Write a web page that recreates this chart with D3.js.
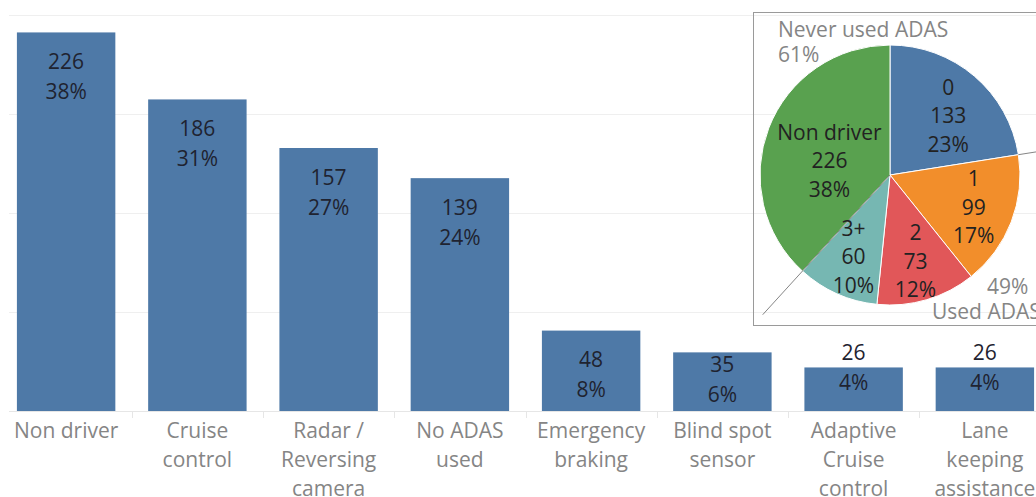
<!DOCTYPE html>
<html>
<head>
<meta charset="utf-8">
<script src="https://cdn.jsdelivr.net/npm/d3@7"></script>
<style>
  html, body { margin: 0; padding: 0; background: #fff; }
  svg { display: block; font-family: "Open Sans", "Noto Sans", sans-serif; }
</style>
</head>
<body>
<svg id="chart" width="1036" height="497"></svg>
<script>
// ---- data ----
const categories = [
  ["Non driver"],
  ["Cruise", "control"],
  ["Radar /", "Reversing", "camera"],
  ["No ADAS", "used"],
  ["Emergency", "braking"],
  ["Blind spot", "sensor"],
  ["Adaptive", "Cruise", "control"],
  ["Lane", "keeping", "assistance"]
];
const barValues = [226, 186, 157, 139, 48, 35, 26, 26];
const respondents = 591;
const gridPercents = [0, 10, 20, 30, 40];

const pieNames = ["0", "1", "2", "3+", "Non driver"];
const pieValues = [133, 99, 73, 60, 226];
const pieColors = ["#4e79a7", "#f28e2b", "#e15759", "#76b7b2", "#59a14f"];
const groupNames = ["Never used ADAS", "Used ADAS"];
const groupPercents = ["61%", "49%"];

// ---- setup ----
const W = 1036, H = 497;
const svg = d3.select("#chart");
const pct = d3.format(".0%");
const FS = 21, LH = 29, CAP = 7.5;

const x = d3.scaleBand().domain(d3.range(barValues.length))
  .range([0.5, 1050.5]).paddingInner(0.25).paddingOuter(0.125);
const y = d3.scaleLinear().domain([0, 40]).range([411, 15]);
const yv = v => y(v / respondents * 100);

// gridlines
svg.append("g").selectAll("line").data(gridPercents).join("line")
  .attr("x1", 9).attr("x2", W)
  .attr("y1", d => y(d) + 0.5).attr("y2", d => y(d) + 0.5)
  .attr("stroke", d => d === 0 ? "#e6e6e6" : "#efefef").attr("stroke-width", 1);

// category separators
svg.append("g").selectAll("line").data(d3.range(1, barValues.length)).join("line")
  .attr("x1", i => Math.round(x(i) - x.step() * x.paddingInner() / 2) + 0.5)
  .attr("x2", i => Math.round(x(i) - x.step() * x.paddingInner() / 2) + 0.5)
  .attr("y1", y(0) + 1).attr("y2", y(0) + 7)
  .attr("stroke", "#e6e6e6");

// bars
svg.append("g").selectAll("rect").data(barValues).join("rect")
  .attr("x", (d, i) => x(i)).attr("width", x.bandwidth())
  .attr("y", d => yv(d)).attr("height", d => y(0) - yv(d))
  .attr("fill", "#4e79a7");

// bar labels
const barLabels = svg.append("g").attr("font-size", FS).attr("fill", "#1f2330").attr("text-anchor", "middle");
barValues.forEach((v, i) => {
  const top = yv(v), bottom = y(0), h = bottom - top;
  const center = h >= 55 ? Math.min(top + 44, bottom - 32) : top;
  const lines = [String(v), pct(v / respondents)];
  lines.forEach((t, k) => {
    barLabels.append("text")
      .attr("x", x(i) + x.bandwidth() / 2)
      .attr("y", center + (k - 0.5) * 30 + CAP)
      .text(t);
  });
});

// axis labels
const axisG = svg.append("g").attr("font-size", FS).attr("fill", "#858585").attr("text-anchor", "middle");
categories.forEach((lines, i) => {
  lines.forEach((t, k) => {
    axisG.append("text")
      .attr("x", x(i) + x.bandwidth() / 2)
      .attr("y", 438 + k * LH)
      .text(t);
  });
});

// ---- pie inset ----
const cx = 890, cy = 175, r = 130;
svg.append("rect").attr("x", 753.5).attr("y", 12.5).attr("width", 320).attr("height", 313)
  .attr("fill", "none").attr("stroke", "#9a9a9a").attr("stroke-width", 1);

const pieG = svg.append("g").attr("transform", `translate(${cx},${cy})`);
const pie = d3.pie().sort(null).value(d => d)(pieValues);
const arc = d3.arc().innerRadius(0).outerRadius(r);

pieG.selectAll("path").data(pie).join("path")
  .attr("d", arc)
  .attr("fill", (d, i) => pieColors[i])
  .attr("stroke", "#fff").attr("stroke-width", 1);

// group boundary lines (outer pie)
const total = d3.sum(pieValues);
const bA = 2 * Math.PI * pieValues[0] / total;          // boundary after slice 0
const bB = 2 * Math.PI * (total - pieValues[4]) / total; // boundary before Non driver
const pt = (a, rad) => [Math.sin(a) * rad, -Math.cos(a) * rad];
[[bA, r, 200], [bB, 0, 189]].forEach(([a, r0, r1]) => {
  const p0 = pt(a, r0), p1 = pt(a, r1);
  pieG.append("line").attr("x1", p0[0]).attr("y1", p0[1]).attr("x2", p1[0]).attr("y2", p1[1])
    .attr("stroke", "#666").attr("stroke-width", 0.8);
});

// slice labels
const labelG = pieG.append("g").attr("font-size", FS).attr("fill", "#222").attr("text-anchor", "middle");
pie.forEach((d, i) => {
  const mid = (d.startAngle + d.endAngle) / 2;
  const rad = pieNames[i].length > 3 ? 0.5 * r : 0.69 * r;
  let [lx, ly] = pt(mid, rad);
  if (ly < 0) ly += 9;
  const lines = [pieNames[i], String(pieValues[i]), pct(pieValues[i] / total)];
  lines.forEach((t, k) => {
    labelG.append("text").attr("x", lx).attr("y", ly + (k - 1) * 28.5 + CAP).text(t);
  });
});

// group labels
const gl = svg.append("g").attr("font-size", FS).attr("fill", "#858585");
gl.append("text").attr("x", 778).attr("y", 37).text(groupNames[0]);
gl.append("text").attr("x", 778).attr("y", 62).text(groupPercents[0]);
gl.append("text").attr("x", 987).attr("y", 294).text(groupPercents[1]);
gl.append("text").attr("x", 932).attr("y", 319).text(groupNames[1]);
</script>
</body>
</html>
